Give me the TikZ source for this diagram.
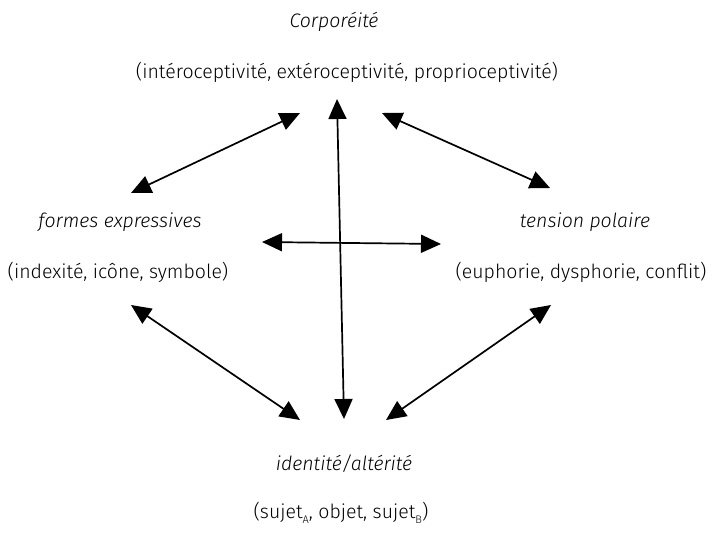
\documentclass[tikz,border=0pt]{standalone}
\usepackage{fontspec}
\setmainfont{Fira Sans Light}[ItalicFont={Fira Sans Light Italic}]
\usetikzlibrary{arrows.meta,positioning}
\newcommand{\lowidx}[1]{\raisebox{-.45ex}{\fontsize{11}{12}\selectfont #1}}

\begin{document}
\begin{tikzpicture}[
  x=1pt,y=-1pt,
  pole_name/.style={font=\fontsize{19.5}{22}\selectfont\itshape,inner sep=0pt},
  pole_list/.style={font=\fontsize{19.5}{22}\selectfont,inner sep=0pt},
  link/.style={line width=1.7pt,{Triangle[length=20pt,width=18pt]}-{Triangle[length=20pt,width=18pt]}}
  ]
  \useasboundingbox (0,0) rectangle (715,539);

%pole top
  \node (corp_name) [pole_name] at(334,22) {Corporéité};
  \node (corp_list) [pole_list] at(347,72) {(intéroceptivité, extéroceptivité, proprioceptivité)};

%pole left
  \node (form_name) [pole_name] at(120,222) {formes expressives};
  \node (form_list) [pole_list] at(118,272) {(indexité, icône, symbole)};

%pole right
  \node (tens_name) [pole_name] at(585,222) {tension polaire};
  \node (tens_list) [pole_list] at(581,272) {(euphorie, dysphorie, conflit)};

%pole bottom
  \node (iden_name) [pole_name] at(344,464) {identité/altérité};
  \node (iden_list) [pole_list] at(341,513) {(sujet\lowidx{A}, objet, sujet\lowidx{B})};

%arrow ends
  \coordinate (cross_top) at(337,99);
  \coordinate (cross_bottom) at(344,419);
  \coordinate (cross_left) at(262,242);
  \coordinate (cross_right) at(441,244);
  \coordinate (tl_a) at(131,193);
  \coordinate (tl_b) at(300,113);
  \coordinate (tr_a) at(382,113);
  \coordinate (tr_b) at(550,188);
  \coordinate (bl_a) at(131,305);
  \coordinate (bl_b) at(300,420);
  \coordinate (br_a) at(551,305);
  \coordinate (br_b) at(386,420);

  \draw [link] (cross_top) -- (cross_bottom);
  \draw [link] (cross_left) -- (cross_right);
  \draw [link] (tl_a) -- (tl_b);
  \draw [link] (tr_a) -- (tr_b);
  \draw [link] (bl_a) -- (bl_b);
  \draw [link] (br_a) -- (br_b);

\end{tikzpicture}
\end{document}
